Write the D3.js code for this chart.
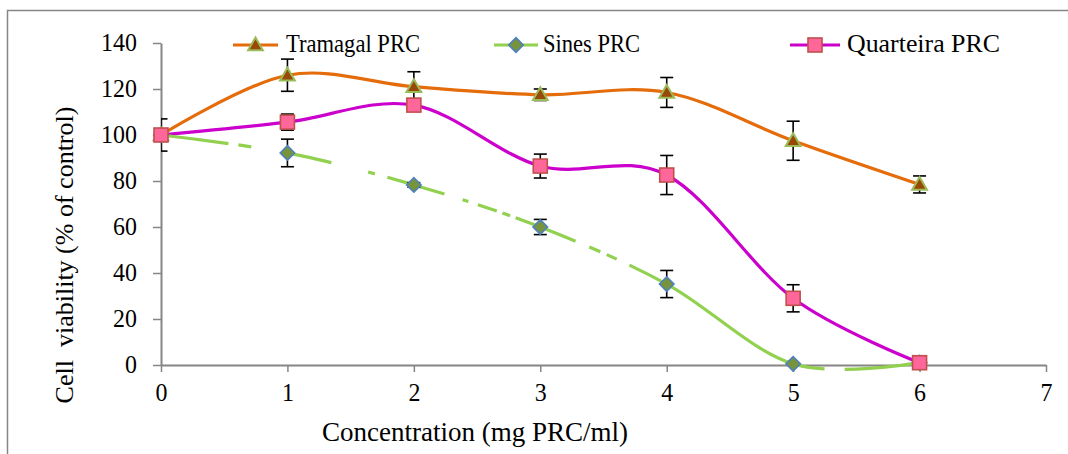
<!DOCTYPE html>
<html><head><meta charset="utf-8">
<script src="https://cdn.jsdelivr.net/npm/d3@7"></script>
<style>
body{margin:0;background:#fff}
svg{display:block}
</style>
</head><body>
<svg id="chart" width="1068" height="454"></svg>
<script>
// ---- data ----
const concentrations = [0, 1, 2, 3, 4, 5, 6];
const seriesNames = ["Tramagal PRC", "Sines PRC", "Quarteira PRC"];
const tramagal    = [100, 126, 121, 117.5, 118.5, 97.5, 78.5];
const tramagalErr = [7, 7, 6.5, 2.5, 6.5, 8.5, 3.7];
const sines       = [100, 92.2, 78.3, 60, 35.2, 0.5, 1];
const sinesErr    = [0, 6, 1, 3.3, 5.9, 0, 0];
const quarteira   = [100, 105.6, 113, 86.5, 82.6, 29, 1];
const quarteiraErr= [0, 3.5, 2, 5.2, 8.5, 5.9, 0];
const xTicks = [0, 1, 2, 3, 4, 5, 6, 7];
const yTicks = [0, 20, 40, 60, 80, 100, 120, 140];
const xTitle = "Concentration (mg PRC/ml)";
const yTitle = "Cell  viability (% of control)";

// ---- layout ----
const FONT = "Liberation Serif";
const svg = d3.select("#chart");
const x = d3.scaleLinear().domain([0, 7]).range([161, 1046]);
const y = d3.scaleLinear().domain([0, 140]).range([365, 43]);
const axisColor = "#868686";

function serif(sel, size) {
  sel.style("font-family", FONT).style("font-size", size + "px").style("fill", "#000");
}
function condense(sel, f) {
  sel.each(function () {
    const w = this.getComputedTextLength();
    d3.select(this).attr("textLength", w * f).attr("lengthAdjust", "spacingAndGlyphs");
  });
}

// frame
svg.append("rect").attr("x", 7.5).attr("y", 10.5).attr("width", 1100).attr("height", 500)
  .attr("fill", "none").attr("stroke", axisColor).attr("stroke-width", 1.5);

// axes
const gx = svg.append("g").attr("transform", `translate(0,${y(0)})`)
  .call(d3.axisBottom(x).tickValues(xTicks).tickFormat(d3.format("d")).tickSize(7).tickPadding(11).tickSizeOuter(0));
const gy = svg.append("g").attr("transform", `translate(${x(0)},0)`)
  .call(d3.axisLeft(y).tickValues(yTicks).tickFormat(d3.format("d")).tickSize(8).tickPadding(16).tickSizeOuter(0));
[gx, gy].forEach(g => {
  g.select(".domain").attr("stroke", axisColor).attr("stroke-width", 2);
  g.selectAll(".tick line").attr("stroke", axisColor).attr("stroke-width", 1.5);
  g.selectAll(".tick text").call(serif, 26);
});
gy.selectAll(".tick text").attr("dy", "0.3em");
condense(gx.selectAll(".tick text"), 0.92);
condense(gy.selectAll(".tick text"), 0.92);

// axis titles
svg.append("text").attr("x", 475).attr("y", 441).attr("text-anchor", "middle")
  .call(serif, 27).text(xTitle);
svg.append("text").attr("transform", "translate(64,255) rotate(-90)").attr("dy", "0.35em")
  .attr("text-anchor", "middle").call(serif, 26).style("white-space", "pre").text(yTitle);

// clip for plot-area items
svg.append("clipPath").attr("id", "plotclip").append("rect")
  .attr("x", x(0)).attr("y", 0).attr("width", x(7) - x(0) + 20).attr("height", y(0) + 20);

const pts = vals => concentrations.map((c, i) => [x(c), y(vals[i])]);
const k = 1 / 6;

// smooth lines
const smooth = d3.line().curve(d3.curveCardinal.tension(0));
svg.append("path").attr("d", smooth(pts(tramagal))).attr("fill", "none")
  .attr("stroke", "#E46C0A").attr("stroke-width", 3.2);
svg.append("path").attr("d", smooth(pts(quarteira))).attr("fill", "none")
  .attr("stroke", "#CC00CC").attr("stroke-width", 3.2);

// Sines: segment-wise (mixed dash styles, as in the source)
const sp = pts(sines);
const sinesDash = [
  "68,10,13,300",
  "45,38,7,13,300,0",
  "32,19,6,10,20,6,8,6,300,0",
  "38,15,12,7,11,14,300,0",
  null,
  "32,20,300,0"
];
for (let i = 0; i < sp.length - 1; i++) {
  const p0 = sp[i], p1 = sp[i + 1];
  const pm = i > 0 ? sp[i - 1] : null;
  const p2 = i + 2 < sp.length ? sp[i + 2] : null;
  const c1 = pm ? [p0[0] + k * (p1[0] - pm[0]), p0[1] + k * (p1[1] - pm[1])] : p0;
  const c2 = p2 ? [p1[0] - k * (p2[0] - p0[0]), p1[1] - k * (p2[1] - p0[1])] : p1;
  const path = d3.path();
  path.moveTo(p0[0], p0[1]);
  path.bezierCurveTo(c1[0], c1[1], c2[0], c2[1], p1[0], p1[1]);
  const el = svg.append("path").attr("d", path.toString()).attr("fill", "none")
    .attr("stroke", "#92D050").attr("stroke-width", 3.2);
  if (sinesDash[i]) el.attr("stroke-dasharray", sinesDash[i]);
}

// error bars
const errG = svg.append("g").attr("clip-path", "url(#plotclip)")
  .attr("stroke", "#000").attr("stroke-width", 1.6);
[[tramagal, tramagalErr], [sines, sinesErr], [quarteira, quarteiraErr]].forEach(([vals, errs]) => {
  concentrations.forEach((c, i) => {
    const e = errs[i];
    if (!e) return;
    const cx = x(c), yt = y(vals[i] + e), yb = y(vals[i] - e);
    errG.append("line").attr("x1", cx).attr("x2", cx).attr("y1", yt).attr("y2", yb);
    errG.append("line").attr("x1", cx - 6.5).attr("x2", cx + 6.5).attr("y1", yt).attr("y2", yt);
    errG.append("line").attr("x1", cx - 6.5).attr("x2", cx + 6.5).attr("y1", yb).attr("y2", yb);
  });
});

// markers
const triSym = d3.symbol().type(d3.symbolTriangle).size(95);
const diaSym = d3.symbol().type(d3.symbolSquare).size(105);
function drawTri(g, cx, cy) {
  g.append("path").attr("d", triSym()).attr("transform", `translate(${cx},${cy + 1})`)
    .attr("fill", "#984807").attr("stroke", "#9BBB59").attr("stroke-width", 2);
}
function drawDia(g, cx, cy) {
  g.append("path").attr("d", diaSym()).attr("transform", `translate(${cx},${cy}) rotate(45)`)
    .attr("fill", "#77933C").attr("stroke", "#4F81BD").attr("stroke-width", 1.6);
}
function drawSq(g, cx, cy) {
  g.append("rect").attr("x", cx - 7).attr("y", cy - 7).attr("width", 14).attr("height", 14)
    .attr("fill", "#FF6699").attr("stroke", "#C0504D").attr("stroke-width", 1.6);
}
const mg = svg.append("g");
sp.forEach(p => drawDia(mg, p[0], p[1]));
pts(tramagal).forEach(p => drawTri(mg, p[0], p[1]));
pts(quarteira).forEach(p => drawSq(mg, p[0], p[1]));

// legend
const legY = 45;
const legLine = [[233, 278], [494, 538], [790, 840]];
const legTextX = [286, 543, 847];
const legTextW = [134, 97, 153];
const legColors = ["#E46C0A", "#92D050", "#CC00CC"];
const drawers = [drawTri, drawDia, drawSq];
seriesNames.forEach((name, i) => {
  const g = svg.append("g");
  const [a, b] = legLine[i];
  g.append("line").attr("x1", a).attr("x2", b).attr("y1", legY).attr("y2", legY)
    .attr("stroke", legColors[i]).attr("stroke-width", 3.2);
  drawers[i](g, (a + b) / 2, legY);
  g.append("text").attr("x", legTextX[i]).attr("y", legY + 7).call(serif, 26)
    .text(name).attr("textLength", legTextW[i]).attr("lengthAdjust", "spacingAndGlyphs");
});
</script>
</body></html>
